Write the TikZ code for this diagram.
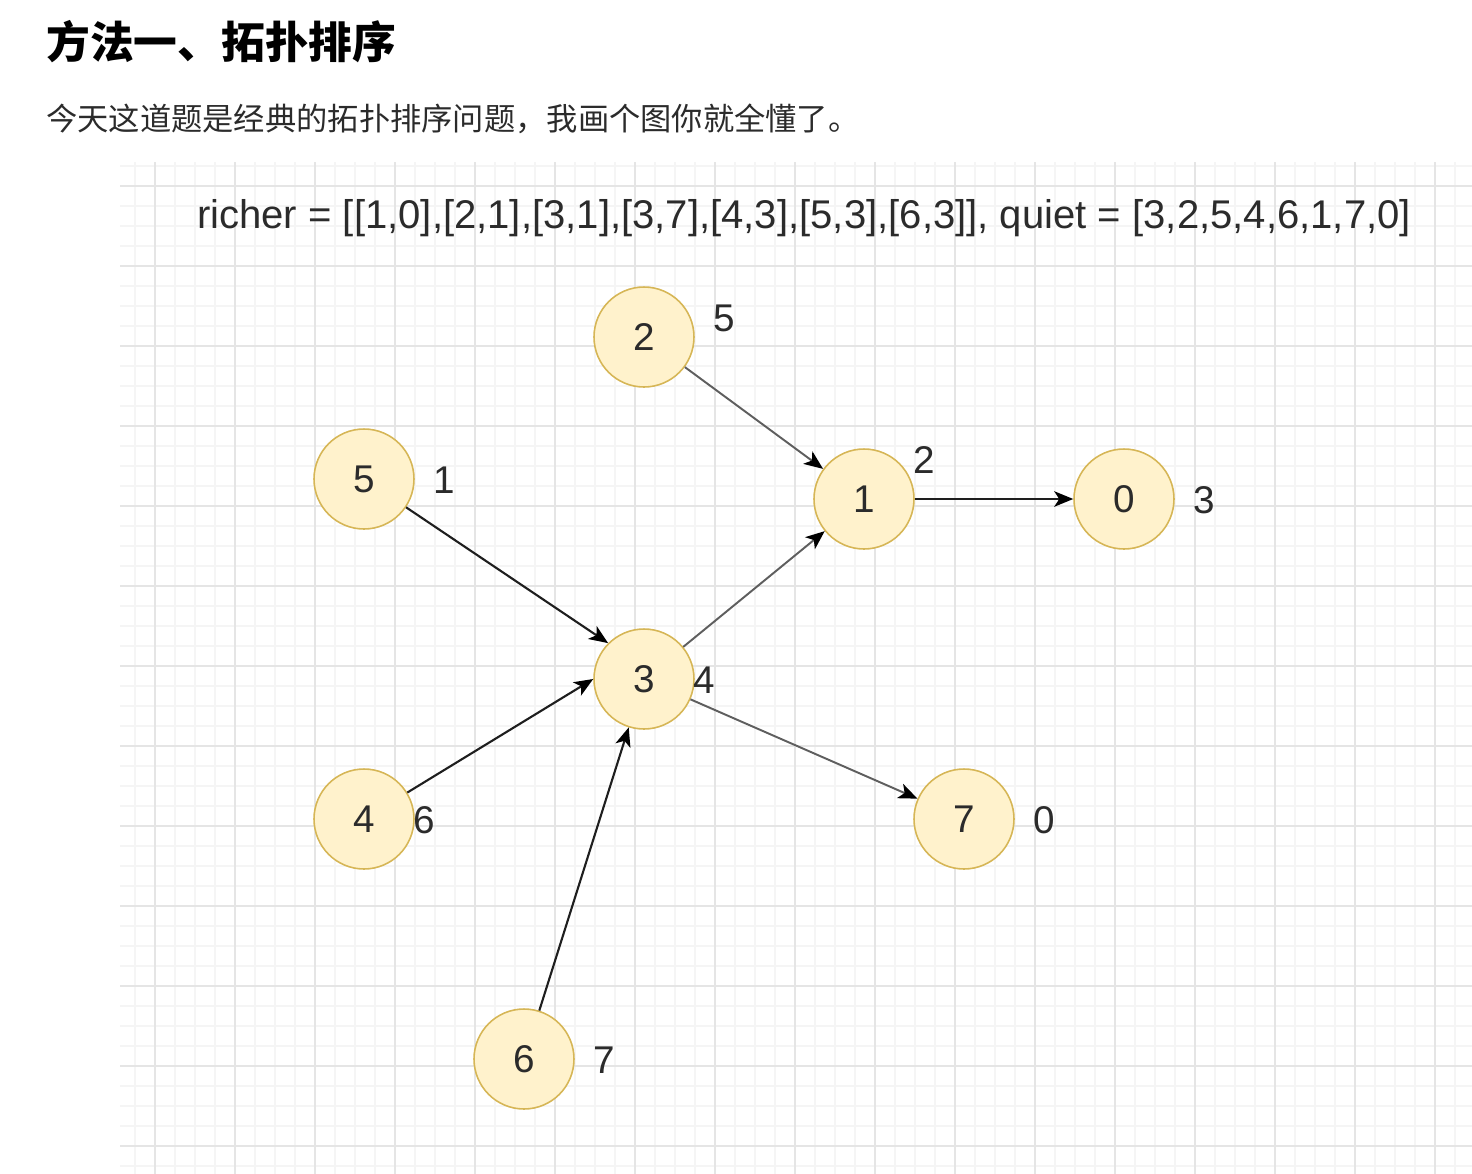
\documentclass[tikz,border=0pt]{standalone}
\usepackage{fontspec}
\setmainfont{Liberation Sans}
\newfontfamily\cjk{Noto Sans CJK SC}
\usetikzlibrary{arrows.meta,positioning}
\definecolor{pyellow}{HTML}{FFF2CC}
\definecolor{pyellowd}{HTML}{D6B656}
\definecolor{gmajor}{HTML}{E5E5E5}
\definecolor{gminor}{HTML}{F5F5F5}
\definecolor{egray}{HTML}{5E5E5E}
\definecolor{eblack}{HTML}{1E1E1E}
\definecolor{ptext}{HTML}{2B2B2B}
\tikzset{
  % yellow draw.io style circle for a person
  person/.style = {circle, draw=pyellowd, fill=pyellow, line width=0.9pt,
                   minimum size=2cm, inner sep=0pt, text=ptext,
                   font=\fontsize{22}{26}\selectfont},
  val/.style    = {text=ptext, inner sep=0pt, font=\fontsize{22}{26}\selectfont},
  rel/.style    = {-{Stealth[length=3.8mm, width=3.1mm, inset=1mm, color=black]},
                   line width=1.2pt, eblack},
  rel gray/.style = {rel, egray, line width=1.1pt},
}
\begin{document}
\begin{tikzpicture}[x=0.02cm,y=-0.02cm]
\useasboundingbox (0,0) rectangle (1472,1174);
% page text
\node[anchor=west, inner sep=0pt, font=\cjk\bfseries\fontsize{24.9}{30}\selectfont] (head) at (46,42) {方法一、拓扑排序};
\node[anchor=west, inner sep=0pt, text=ptext, font=\cjk\fontsize{17.8}{22}\selectfont] (intro) at (46,119) {今天这道题是经典的拓扑排序问题，我画个图你就全懂了。};
% grid
\foreach \x in {135,155,...,1471} {\draw[gminor, line width=0.6pt] (\x,162) -- (\x,1174);}
\foreach \y in {166,186,...,1174} {\draw[gminor, line width=0.6pt] (120,\y) -- (1472,\y);}
\foreach \x in {155,235,...,1471} {\draw[gmajor, line width=0.6pt] (\x,162) -- (\x,1174);}
\foreach \y in {186,266,...,1174} {\draw[gmajor, line width=0.6pt] (120,\y) -- (1472,\y);}
% input
\node[text=ptext, inner sep=0pt, font=\fontsize{22.8}{26}\selectfont] (input) at (804,218)
  {richer = [[1,0],[2,1],[3,1],[3,7],[4,3],[5,3],[6,3]], quiet = [3,2,5,4,6,1,7,0]};
% people
\node[person] (n2) at (644,337) {2};
\node[person] (n5) at (364,479) {5};
\node[person] (n1) at (864,499) {1};
\node[person] (n0) at (1124,499) {0};
\node[person] (n3) at (644,679) {3};
\node[person] (n4) at (364,819) {4};
\node[person] (n7) at (964,819) {7};
\node[person] (n6) at (524,1059) {6};
% quiet values
\node[val] (q2) at (724,318) {5};
\node[val] (q5) at (444,480) {1};
\node[val] (q1) at (924,460) {2};
\node[val] (q0) at (1204,500) {3};
\node[val] (q3) at (704,680) {4};
\node[val] (q4) at (424,820) {6};
\node[val] (q7) at (1044,820) {0};
\node[val] (q6) at (604,1060) {7};
% richer edges
\draw[rel gray] (n2) -- (n1);
\draw[rel] (n1) -- (n0);
\draw[rel] (n5) -- (n3.north west);
\draw[rel gray] (n3) -- (n1);
\draw[rel gray] (n3) -- (n7);
\draw[rel] (n4) -- (n3.west);
\draw[rel] (n6) -- (n3);
\end{tikzpicture}
\end{document}
